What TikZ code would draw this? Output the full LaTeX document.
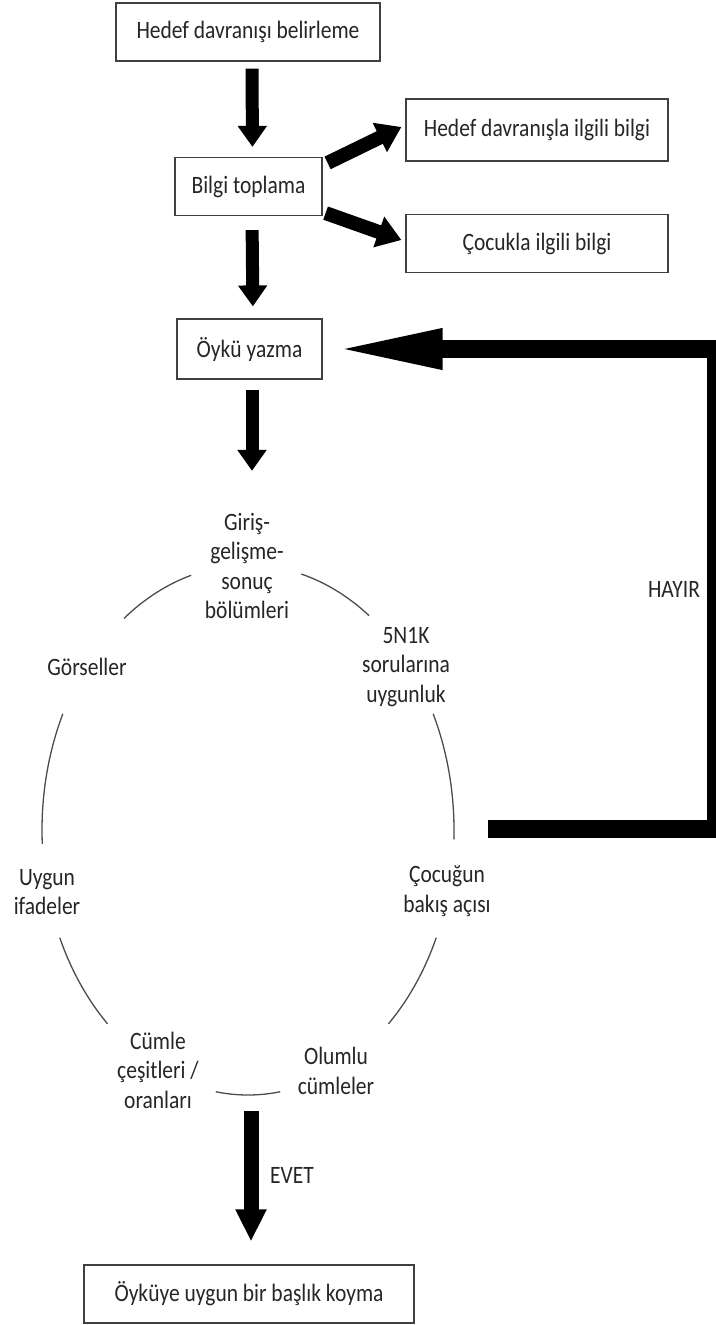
\documentclass[tikz,border=0pt]{standalone}
\usepackage{fontspec}
\setmainfont{Carlito}[FakeStretch=0.86]
\usepackage{tikz}
\usetikzlibrary{arrows.meta}

\begin{document}
\begin{tikzpicture}[x=1pt, y=-1pt,
    every node/.style={font=\fontsize{25}{29.5}\selectfont, text=black!85},
    box/.style={draw=black!75, line width=1.2pt, minimum height=58pt},
    lbl/.style={align=center, inner sep=0pt},
    ring/.style={draw=black!70, line width=1.3pt},
    down/.style={line width=13pt, -{Triangle[width=28pt,length=21pt]}},
    side/.style={line width=14pt, -{Triangle[width=31pt,length=24pt]}},
    back/.style={line width=18pt, -{Triangle[width=36pt,length=112pt]}}]
    \useasboundingbox (0,0) rectangle (715,1325);
    \fill [white] (0,0) rectangle (715,1325);

    \node [box, minimum width=264pt] (hedef) at (248,32) {Hedef davranışı belirleme};
    \node [box, minimum width=147pt] (bilgi) at (248.5,186.5) {Bilgi toplama};
    \node [box, minimum width=262pt, minimum height=62pt] (hedefbilgi) at (537,130) {Hedef davranışla ilgili bilgi};
    \node [box, minimum width=262pt] (cocukbilgi) at (537,243.5) {Çocukla ilgili bilgi};
    \node [box, minimum width=145pt, minimum height=60pt] (oyku) at (249.5,349) {Öykü yazma};
    \node [box, minimum width=330pt] (baslik) at (249,1294) {Öyküye uygun bir başlık koyma};

    \node [lbl] (giris) at (247,566) {Giriş-\\gelişme-\\sonuç\\bölümleri};
    \node [lbl] (soru) at (406,667) {5N1K\\sorularına\\uygunluk};
    \node [lbl] (cocugun) at (447,891) {Çocuğun\\bakış açısı};
    \node [lbl] (olumlu) at (336,1071) {Olumlu\\cümleler};
    \node [lbl] (cumle) at (158,1070) {Cümle\\çeşitleri /\\oranları};
    \node [lbl] (uygun) at (47,892) {Uygun\\ifadeler};
    \node [lbl] (gorsel) at (87,667) {Görseller};
    \node [lbl] (evet) at (292,1175) {EVET};
    \node [lbl] (hayir) at (674,589) {HAYIR};

    \coordinate (cyc) at (248,830);
    \draw [ring] (cyc) ++(233:206 and 265) arc[start angle=233, end angle=254, x radius=206, y radius=265];
    \draw [ring] (cyc) ++(285:206 and 265) arc[start angle=285, end angle=306, x radius=206, y radius=265];
    \draw [ring] (cyc) ++(334:206 and 265) arc[start angle=334, end angle=362, x radius=206, y radius=265];
    \draw [ring] (cyc) ++(24:206 and 265) arc[start angle=24, end angle=47, x radius=206, y radius=265];
    \draw [ring] (cyc) ++(81:206 and 265) arc[start angle=81, end angle=99, x radius=206, y radius=265];
    \draw [ring] (cyc) ++(133:206 and 265) arc[start angle=133, end angle=156, x radius=206, y radius=265];
    \draw [ring] (cyc) ++(177:206 and 265) arc[start angle=177, end angle=206, x radius=206, y radius=265];

    \draw [down, shorten <=7pt, shorten >=10pt] ([xshift=4pt]hedef.south) -- ([xshift=4pt]bilgi.north);
    \draw [down, shorten <=14pt, shorten >=12pt] ([xshift=3.5pt]bilgi.south) -- ([xshift=3.5pt]oyku.north);
    \draw [down, shorten <=10pt, shorten >=42pt] ([xshift=2.5pt]oyku.south) -- ([xshift=2.5pt]oyku.south |- giris.north);
    \draw [side] ([xshift=5pt, yshift=-6pt]bilgi.north east) -- ([xshift=-4pt, yshift=3pt]hedefbilgi.west);
    \draw [side] ([xshift=3pt, yshift=3pt]bilgi.south east) -- ([xshift=-4pt, yshift=3.5pt]cocukbilgi.west);

    \coordinate (loopin) at (488,829);
    \coordinate (loopturn) at (716,829);
    \draw [back, shorten >=8pt] (loopin) -- (loopturn) |- (oyku.east);

    \coordinate (ringout) at (251,1111);
    \draw [line width=15pt, -{Triangle[width=29pt,length=32pt]}, shorten >=23pt] (ringout) -- (ringout |- baslik.north);
\end{tikzpicture}
\end{document}
